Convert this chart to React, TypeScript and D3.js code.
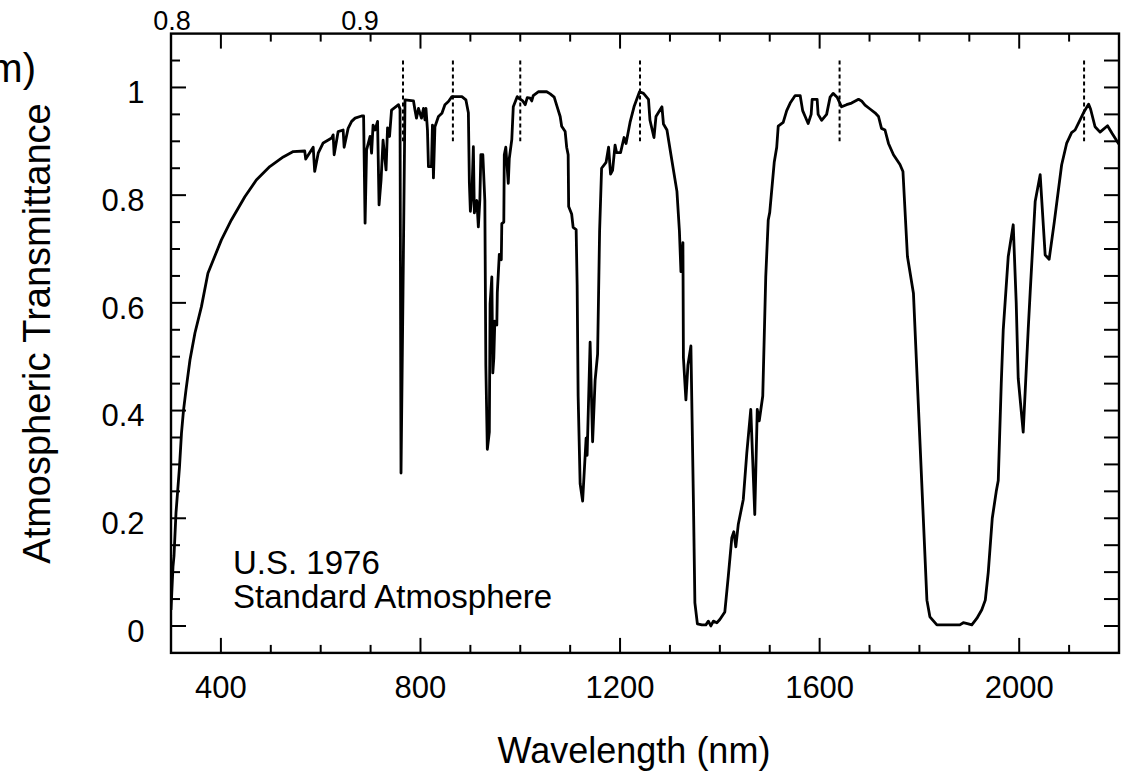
import React from "react";
import * as d3 from "d3";

// Wavelength (nm) and atmospheric transmittance
const wavelength: number[] = [
  300, 302, 304, 306, 310, 317, 321, 325, 330, 338, 348, 361, 374, 401, 421, 448, 471, 498, 525, 545,
  568, 570, 585, 588, 595, 605, 622, 625, 627, 635, 645, 647, 655, 662, 669, 682, 686, 689, 692, 699,
  702, 705, 709, 714, 717, 721, 725, 731, 734, 738, 742, 756, 759, 761, 765, 769, 786, 789, 792, 796,
  802, 806, 809, 811, 814, 816, 822, 824, 826, 829, 836, 843, 849, 856, 863, 883, 891, 896, 898, 900,
  903, 906, 908, 913, 916, 919, 921, 925, 929, 931, 934, 938, 939.5, 943, 945, 947, 949, 953, 954, 958,
  962, 963, 967, 968, 971, 976, 978, 983, 986, 994, 997, 1005, 1010, 1014, 1020, 1023, 1026, 1036, 1053, 1060,
  1068, 1074, 1080, 1083, 1090, 1093, 1096, 1097, 1103, 1106, 1112, 1114, 1116, 1120, 1125, 1132, 1134, 1140, 1145, 1150,
  1155, 1159, 1163, 1172, 1177, 1181, 1185, 1190, 1193, 1201, 1208, 1212, 1220, 1228, 1239, 1247, 1257, 1260, 1268, 1272,
  1284, 1287, 1294, 1302, 1314, 1319, 1322, 1326, 1327, 1332, 1336, 1342, 1347, 1350, 1355, 1364, 1372, 1377, 1382, 1387,
  1394, 1400, 1410, 1417, 1424, 1428, 1432, 1437, 1447, 1454, 1462, 1470, 1475, 1479, 1486, 1492, 1497, 1500, 1509, 1514,
  1517, 1527, 1534, 1541, 1551, 1561, 1566, 1571, 1577, 1583, 1585, 1595, 1597, 1604, 1614, 1621, 1627, 1635, 1644, 1654,
  1664, 1678, 1684, 1691, 1701, 1711, 1718, 1724, 1731, 1738, 1748, 1761, 1767, 1776, 1788, 1815, 1821, 1835, 1881, 1888,
  1898, 1905, 1915, 1925, 1932, 1938, 1946, 1954, 1958, 1964, 1968, 1978, 1988, 1994, 1998, 2008, 2018, 2022, 2032, 2042,
  2052, 2060, 2070, 2085, 2095, 2105, 2112, 2122, 2130, 2139, 2143, 2152, 2162, 2177, 2186, 2199, 2200,
];

const transmittance: number[] = [
  0.03, 0.07, 0.11, 0.13, 0.21, 0.295, 0.358, 0.4, 0.438, 0.494, 0.544, 0.593, 0.655, 0.717, 0.754, 0.797, 0.828, 0.853, 0.871, 0.881,
  0.882, 0.867, 0.889, 0.844, 0.878, 0.897, 0.906, 0.912, 0.875, 0.918, 0.921, 0.889, 0.924, 0.937, 0.943, 0.947, 0.947, 0.748, 0.884, 0.909,
  0.878, 0.93, 0.921, 0.937, 0.782, 0.828, 0.902, 0.847, 0.925, 0.909, 0.958, 0.968, 0.96, 0.284, 0.62, 0.977, 0.975, 0.958, 0.943, 0.961,
  0.943, 0.961, 0.94, 0.961, 0.921, 0.853, 0.853, 0.93, 0.832, 0.927, 0.946, 0.952, 0.968, 0.974, 0.983, 0.983, 0.977, 0.953, 0.823, 0.77,
  0.8, 0.89, 0.767, 0.79, 0.741, 0.791, 0.875, 0.875, 0.79, 0.484, 0.328, 0.36, 0.598, 0.648, 0.47, 0.498, 0.566, 0.559, 0.619, 0.69,
  0.68, 0.747, 0.75, 0.875, 0.889, 0.822, 0.868, 0.903, 0.964, 0.983, 0.98, 0.975, 0.968, 0.981, 0.98, 0.975, 0.985, 0.992, 0.992, 0.988,
  0.982, 0.964, 0.946, 0.928, 0.918, 0.889, 0.875, 0.779, 0.765, 0.74, 0.736, 0.633, 0.427, 0.264, 0.232, 0.349, 0.317, 0.527, 0.342, 0.456,
  0.505, 0.733, 0.85, 0.861, 0.889, 0.839, 0.846, 0.893, 0.879, 0.879, 0.907, 0.896, 0.935, 0.964, 0.992, 0.989, 0.978, 0.939, 0.907, 0.946,
  0.964, 0.932, 0.921, 0.875, 0.807, 0.733, 0.658, 0.712, 0.498, 0.42, 0.484, 0.52, 0.235, 0.043, 0.004, 0.002, 0.002, 0.009, 0.0, 0.009,
  0.006, 0.012, 0.026, 0.093, 0.164, 0.175, 0.147, 0.189, 0.235, 0.321, 0.402, 0.207, 0.402, 0.381, 0.427, 0.648, 0.754, 0.768, 0.861, 0.889,
  0.928, 0.935, 0.957, 0.971, 0.985, 0.985, 0.957, 0.946, 0.933, 0.95, 0.978, 0.978, 0.95, 0.939, 0.95, 0.982, 0.989, 0.982, 0.964, 0.968,
  0.971, 0.978, 0.975, 0.967, 0.96, 0.953, 0.946, 0.924, 0.921, 0.896, 0.875, 0.857, 0.844, 0.686, 0.618, 0.048, 0.017, 0.002, 0.002, 0.006,
  0.004, 0.002, 0.014, 0.03, 0.048, 0.1, 0.2, 0.25, 0.27, 0.45, 0.55, 0.686, 0.745, 0.6, 0.46, 0.36, 0.55, 0.62, 0.788, 0.838,
  0.689, 0.681, 0.748, 0.856, 0.896, 0.916, 0.921, 0.94, 0.955, 0.969, 0.96, 0.927, 0.917, 0.929, 0.915, 0.896, 0.895,
];

// Band centres marked with dotted lines
const bandCenters: number[] = [765, 865, 1000, 1240, 1640, 2130];
const bandTop = 1.05;
const bandBottom = 0.9;

const xMajorTicks: number[] = [400, 800, 1200, 1600, 2000];
const xMinorTicks: number[] = [400, 500, 600, 700, 800, 900, 1000, 1100, 1200, 1300, 1400, 1500, 1600, 1700, 1800, 1900, 2000, 2100];
const yMajorTicks: number[] = [0, 0.2, 0.4, 0.6, 0.8, 1.0];
const yMinorTicks: number[] = [0, 0.05, 0.1, 0.15, 0.2, 0.25, 0.3, 0.35, 0.4, 0.45, 0.5, 0.55, 0.6, 0.65, 0.7, 0.75, 0.8, 0.85, 0.9, 0.95, 1.0, 1.05];

const topFragmentLabels: string[] = ["0.8", "0.9"];
const annotationLines: string[] = ["U.S. 1976", "Standard Atmosphere"];

const FONT = "'Liberation Sans', Arial, Helvetica, sans-serif";

export default function App() {
  const W = 1125;
  const H = 772;
  const left = 171;
  const right = 1119;
  const top = 33.6;
  const bottom = 652.9;

  const x = d3.scaleLinear().domain([300, 2200]).range([left, right]);
  const y = d3.scaleLinear().domain([-0.05, 1.1]).range([bottom, top]);

  const data = wavelength.map((w, i) => [w, transmittance[i]] as [number, number]);
  const line = d3
    .line<[number, number]>()
    .x((d) => x(d[0]))
    .y((d) => y(d[1]));

  const fmtY = (v: number) => (v === 0 ? "0" : v === 1 ? "1" : d3.format(".1f")(v));

  return (
    <svg
      width={W}
      height={H}
      style={{ position: "absolute", left: 0, top: 0, background: "#fff" }}
      fontFamily={FONT}
    >
      <rect x={0} y={0} width={W} height={H} fill="#fff" />
      <defs>
        <clipPath id="plotclip">
          <rect x={left} y={top} width={right - left} height={bottom - top} />
        </clipPath>
      </defs>

      {/* cropped fragments from a neighbouring panel */}
      <text x={36} y={82} fontSize={40} textAnchor="end" fill="#000">(µm)</text>
      <text x={x(300) + 1} y={30} fontSize={27} textAnchor="middle" fill="#000">{topFragmentLabels[0]}</text>
      <text x={360} y={30} fontSize={27} textAnchor="middle" fill="#000">{topFragmentLabels[1]}</text>

      {/* dotted band markers */}
      {bandCenters.map((b) => (
        <line
          key={"b" + b}
          x1={x(b)}
          x2={x(b)}
          y1={y(bandTop)}
          y2={y(bandBottom)}
          stroke="#000"
          strokeWidth={2}
          strokeDasharray="4,3"
        />
      ))}

      {/* spectrum */}
      <path
        d={line(data) || ""}
        fill="none"
        stroke="#000"
        strokeWidth={2.8}
        strokeLinejoin="round"
        clipPath="url(#plotclip)"
      />

      {/* bottom & top ticks */}
      {xMinorTicks.map((t) => {
        const major = xMajorTicks.includes(t);
        const len = major ? 15 : 8;
        return (
          <g key={"xt" + t}>
            <line x1={x(t)} x2={x(t)} y1={bottom} y2={bottom - len} stroke="#000" strokeWidth={2} />
            <line x1={x(t)} x2={x(t)} y1={top} y2={top + len} stroke="#000" strokeWidth={2} />
          </g>
        );
      })}
      {xMajorTicks.map((t) => (
        <text key={"xl" + t} x={x(t)} y={698} fontSize={31} textAnchor="middle" fill="#000">
          {t}
        </text>
      ))}

      {/* left & right ticks */}
      {yMinorTicks.map((t) => {
        const major = yMajorTicks.some((m) => Math.abs(m - t) < 1e-6);
        const len = major ? 15 : 9;
        return (
          <g key={"yt" + t}>
            <line x1={left} x2={left + len} y1={y(t)} y2={y(t)} stroke="#000" strokeWidth={2} />
            <line x1={right} x2={right - 15} y1={y(t)} y2={y(t)} stroke="#000" strokeWidth={2} />
          </g>
        );
      })}
      {yMajorTicks.map((t) => (
        <text key={"yl" + t} x={144.5} y={y(t) + 8} dy="0.25em" fontSize={31} textAnchor="end" fill="#000">
          {fmtY(t)}
        </text>
      ))}

      {/* frame */}
      <rect x={left} y={top} width={right - left} height={bottom - top} fill="none" stroke="#000" strokeWidth={2.4} />

      {/* annotation */}
      <text x={233} y={574} fontSize={33} fill="#000">{annotationLines[0]}</text>
      <text x={233} y={608} fontSize={33} fill="#000">{annotationLines[1]}</text>

      {/* axis titles */}
      <text x={634} y={763} fontSize={36} textAnchor="middle" fill="#000">Wavelength (nm)</text>
      <text
        transform={`translate(50, 333.5) rotate(-90)`}
        fontSize={38}
        textAnchor="middle"
        fill="#000"
      >
        Atmospheric Transmittance
      </text>
    </svg>
  );
}
